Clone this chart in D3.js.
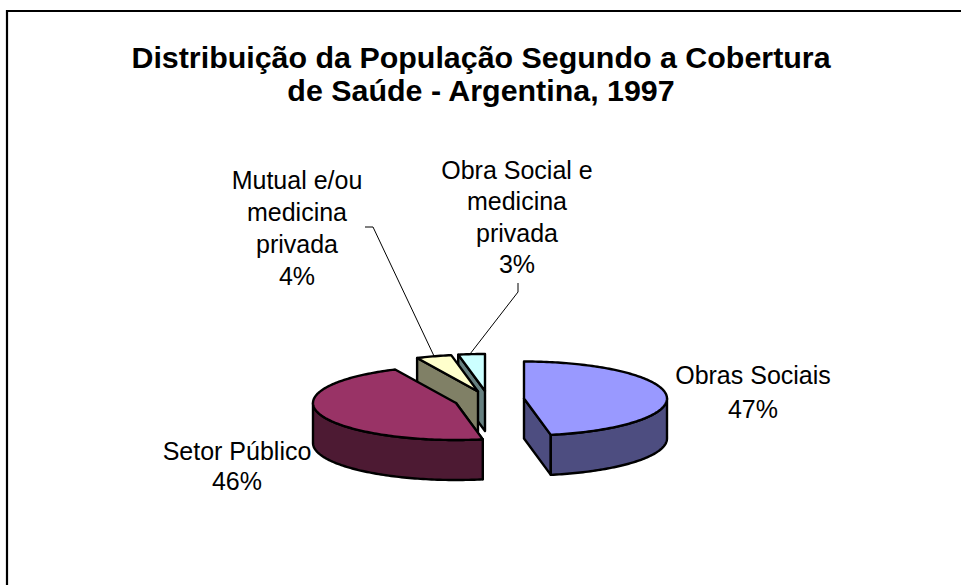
<!DOCTYPE html>
<html><head><meta charset="utf-8">
<script src="https://cdn.jsdelivr.net/npm/d3@7"></script>
<style>html,body{margin:0;padding:0;background:#fff}svg{display:block}text{font-family:"Liberation Sans",Arial,sans-serif;fill:#000}</style>
</head><body><svg id="c" width="961" height="585"></svg>
<script>
const titleLines = ["Distribuição da População Segundo a Cobertura","de Saúde - Argentina, 1997"];
const categories = ["Obras Sociais","Setor Público","Mutual e/ou medicina privada","Obra Social e medicina privada"];
const values = [47,46,4,3];
const topColors = ["#9999ff","#993366","#ffffcc","#ccffff"];
const sideColors = ["#4d4d80","#4d1a33","#808066","#668080"];
const labelLines = [["Obras Sociais","47%"],["Setor Público","46%"],["Mutual e/ou","medicina","privada","4%"],["Obra Social e","medicina","privada","3%"]];
const sliceCenters = [[524,398.5],[456,403],[478,391.5],[485,391]];
const labelAnchors = [[753,384],[237,460],[297,189],[517,179]];
const labelGaps = [33.5,30,32,31.3];
const leaders = [null,null,[[365,227],[373,227],[434,356]],[[518,283],[518,292],[470,354]]];
const rx=143, ry=37, depth=40;

const svg=d3.select("#c");
svg.append("path").attr("d",d3.line()([[7,585],[7,11],[961,11]])).attr("fill","none").attr("stroke","#000").attr("stroke-width",2.2);

svg.append("g").selectAll("text").data(titleLines).join("text")
 .attr("x",481).attr("y",(d,i)=>68+i*33).attr("text-anchor","middle")
 .attr("font-size",30.4).attr("font-weight","bold").text(d=>d);

const arcs=d3.pie().sort(null)(values);
const pt=(c,a,dz=0)=>[c[0]+rx*Math.sin(a),c[1]-ry*Math.cos(a)+dz];
function arcPts(c,a0,a1,dz){const n=Math.max(2,Math.ceil((a1-a0)/0.02));
 return d3.range(n+1).map(i=>pt(c,a0+(a1-a0)*i/n,dz));}
const line=d3.line();
const g=svg.append("g").attr("stroke","#000").attr("stroke-width",2.4).attr("stroke-linejoin","round");
[3,2,1,0].forEach(i=>{
 const a=arcs[i],c=sliceCenters[i],a0=a.startAngle,a1=a.endAngle;
 const low=[c[0],c[1]+depth];
 if(i===0){
  g.append("path").attr("fill",sideColors[i]).attr("d",line([c,pt(c,a1),pt(c,a1,depth),low])+"Z");
 } else {
  g.append("path").attr("fill",sideColors[i]).attr("d",line([c,pt(c,a0),pt(c,a0,depth),low])+"Z");
 }
 const f0=Math.max(a0,Math.PI/2),f1=Math.min(a1,Math.PI*1.5);
 if(f1>f0){
  const top=arcPts(c,f0,f1,0),bot=arcPts(c,f0,f1,depth).reverse();
  g.append("path").attr("fill",sideColors[i]).attr("d",line(top.concat(bot))+"Z");
 }
 g.append("path").attr("fill",topColors[i]).attr("d",line([c].concat(arcPts(c,a0,a1,0)))+"Z");
});

const lg=svg.append("g");
labelLines.forEach((ls,i)=>{
 lg.append("g").selectAll("text").data(ls).join("text")
  .attr("x",labelAnchors[i][0]).attr("y",(d,j)=>labelAnchors[i][1]+j*labelGaps[i]).attr("text-anchor","middle")
  .attr("font-size",25).text(d=>d);
 if(leaders[i]) lg.append("path").attr("d",line(leaders[i])).attr("fill","none").attr("stroke","#000").attr("stroke-width",1);
});
</script></body></html>
